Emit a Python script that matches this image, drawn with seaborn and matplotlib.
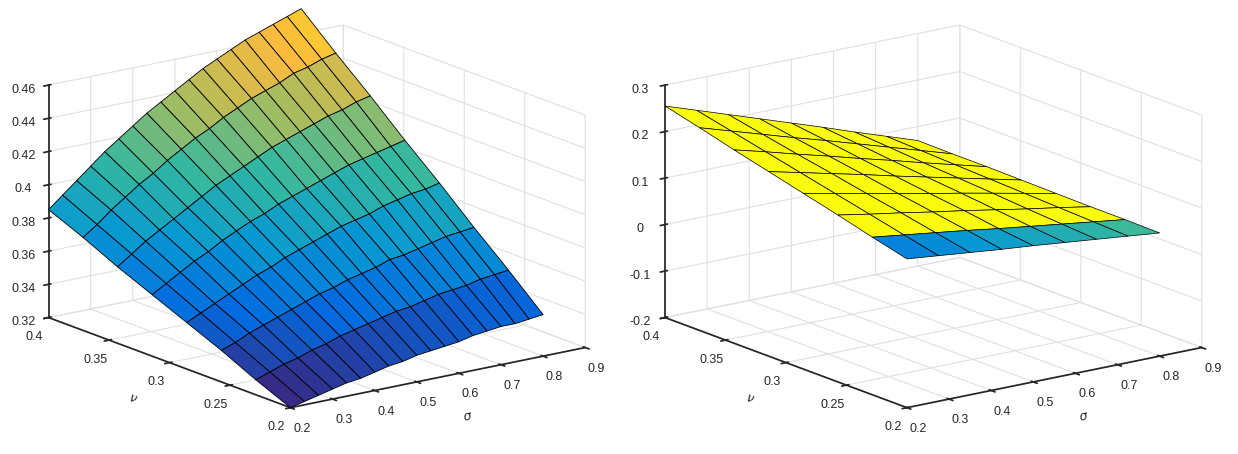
import numpy as np
import matplotlib
matplotlib.use("Agg")
import matplotlib.pyplot as plt
import seaborn as sns
from matplotlib.colors import LinearSegmentedColormap, Normalize

sns.set_theme(style="white")
plt.rcParams['font.family'] = ['Liberation Sans', 'DejaVu Sans']

# grid values
sigma_left = [0.2, 0.2333, 0.2667, 0.3, 0.3333, 0.3667, 0.4, 0.4333, 0.4667, 0.5,
              0.5333, 0.5667, 0.6, 0.6333, 0.6667, 0.7, 0.7333, 0.7667, 0.8]
nu_vals = [0.2, 0.2286, 0.2571, 0.2857, 0.3143, 0.3429, 0.3714, 0.4]
z_left = [
    [.320, .322, .324, .326, .328, .329, .331, .333, .334, .336, .337, .338, .339, .341, .342, .343, .343, .344, .345],
    [.329, .332, .335, .337, .340, .342, .345, .347, .349, .351, .353, .354, .356, .358, .359, .360, .362, .363, .364],
    [.339, .342, .346, .349, .352, .355, .358, .361, .363, .366, .368, .370, .373, .374, .376, .378, .380, .381, .382],
    [.348, .352, .356, .360, .364, .368, .371, .375, .378, .381, .384, .387, .389, .391, .394, .396, .398, .399, .401],
    [.357, .362, .367, .372, .376, .381, .385, .389, .392, .396, .399, .402, .405, .408, .411, .413, .415, .417, .419],
    [.366, .372, .378, .383, .388, .393, .398, .403, .407, .411, .415, .419, .422, .425, .428, .431, .433, .436, .438],
    [.376, .382, .389, .395, .401, .406, .412, .417, .422, .426, .431, .435, .439, .442, .445, .449, .451, .454, .456],
    [.385, .392, .399, .406, .413, .419, .425, .431, .436, .441, .446, .451, .455, .459, .463, .466, .469, .472, .475],
]

sigma_right = [0.2, 0.275, 0.35, 0.425, 0.5, 0.575, 0.65, 0.725, 0.8]
z_right = [
    [.120, .113, .106, .099, .093, .086, .079, .072, .065],
    [.139, .130, .121, .112, .102, .093, .084, .075, .066],
    [.159, .147, .136, .124, .113, .101, .089, .078, .066],
    [.178, .164, .150, .136, .122, .109, .095, .081, .067],
    [.197, .181, .165, .149, .132, .116, .100, .084, .068],
    [.216, .198, .179, .161, .142, .124, .105, .087, .069],
    [.236, .215, .194, .173, .153, .132, .111, .090, .069],
    [.255, .232, .209, .186, .163, .140, .116, .093, .070],
]

parula = LinearSegmentedColormap.from_list("parula", [
    (0.21, 0.17, 0.53), (0.01, 0.42, 0.88), (0.03, 0.60, 0.82),
    (0.20, 0.72, 0.63), (0.64, 0.74, 0.38), (0.99, 0.73, 0.24), (0.98, 0.98, 0.05)])


def style_axis(ax, zticks, zlim):
    ax.set_proj_type("ortho")
    ax.view_init(elev=16, azim=-126.5)
    ax.set_box_aspect((367, 407, 242), zoom=1.28)
    ax.set_xlim(0.2, 0.9)
    ax.set_ylim(0.2, 0.4)
    ax.set_zlim(*zlim)
    ax.set_xticks([0.2, 0.3, 0.4, 0.5, 0.6, 0.7, 0.8, 0.9])
    ax.set_xticklabels(["0.2", "0.3", "0.4", "0.5", "0.6", "0.7", "0.8", "0.9"])
    ax.set_yticks([0.2, 0.25, 0.3, 0.35, 0.4])
    ax.set_yticklabels(["0.2", "0.25", "0.3", "0.35", "0.4"])
    ax.set_zticks(zticks)
    ax.set_zticklabels([f"{t:g}" for t in zticks])
    ax.set_xlabel(r"$\sigma$", fontsize=9, labelpad=0)
    ax.set_ylabel(r"$\nu$", fontsize=9, labelpad=0)
    for a in (ax.xaxis, ax.yaxis, ax.zaxis):
        a.set_pane_color((1, 1, 1, 0))
        a._axinfo["grid"]["color"] = (0.88, 0.88, 0.88)
        a._axinfo["grid"]["linewidth"] = 0.8
        a.line.set_color((0.15, 0.15, 0.15))
    ax.tick_params(labelsize=9, colors=(0.15, 0.15, 0.15), pad=0)


fig = plt.figure(figsize=(12.38, 4.54), dpi=100)

ax1 = fig.add_axes([0.001, 0.01, 0.5, 1.0], projection="3d")
S, N = np.meshgrid(sigma_left, nu_vals)
Z = np.array(z_left)
surf1 = ax1.plot_surface(S, N, Z, facecolors=parula(Normalize(0.32, 0.475)(Z)),
                         edgecolor="black", linewidth=0.6, shade=False, rstride=1, cstride=1)
surf1.set_clip_on(False)
style_axis(ax1, [0.32, 0.34, 0.36, 0.38, 0.4, 0.42, 0.44, 0.46], (0.32, 0.46))

ax2 = fig.add_axes([0.499, 0.01, 0.5, 1.0], projection="3d")
S2, N2 = np.meshgrid(sigma_right, nu_vals)
Z2 = np.array(z_right)
cols = np.empty(Z2.shape + (4,))
cols[:] = (0.98, 0.98, 0.05, 1.0)
cols[0] = parula(np.linspace(0.25, 0.55, len(sigma_right)))
surf2 = ax2.plot_surface(S2, N2, Z2, facecolors=cols, edgecolor="black", linewidth=0.5,
                         shade=False, rstride=1, cstride=1)
surf2.set_clip_on(False)
style_axis(ax2, [-0.2, -0.1, 0, 0.1, 0.2, 0.3], (-0.2, 0.3))

fig.savefig("out.png", dpi=100)
